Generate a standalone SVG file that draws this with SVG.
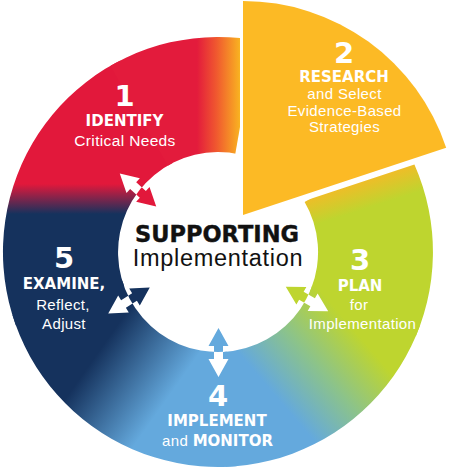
<svg xmlns="http://www.w3.org/2000/svg" width="449" height="469" viewBox="0 0 449 469">
<style>
.d{font-family:"DejaVu Sans",sans-serif;font-weight:bold;fill:#fff;text-anchor:middle;font-size:29px}
.b{font-family:"DejaVu Sans",sans-serif;font-weight:bold;fill:#fff;font-size:15px}
.r{font-family:"Liberation Sans",Arial,sans-serif;fill:#fff;font-size:15px;letter-spacing:0.35px}
.m{text-anchor:middle}
</style>
<defs>
<clipPath id="ringClip"><path d="M414.4 164.6 A215 215 0 1 1 240 38.1 L240 154.5 A100 100 0 1 0 304.1 201.1 Z"/></clipPath>
<clipPath id="innerClip"><circle cx="218" cy="252" r="100"/></clipPath>
<linearGradient id="gTop" gradientUnits="userSpaceOnUse" x1="360" y1="183" x2="368" y2="208"><stop offset="0" stop-color="#EDBE28"/><stop offset="1" stop-color="#BED52F"/></linearGradient>
<linearGradient id="gGB" gradientUnits="userSpaceOnUse" x1="355" y1="331" x2="277" y2="398"><stop offset="0" stop-color="#BED52F"/><stop offset="0.5" stop-color="#8CC38A"/><stop offset="1" stop-color="#64A9DD"/></linearGradient>
<linearGradient id="gBN" gradientUnits="userSpaceOnUse" x1="165" y1="402" x2="97" y2="354"><stop offset="0" stop-color="#64A9DD"/><stop offset="1" stop-color="#15325D"/></linearGradient>
<linearGradient id="gNR" gradientUnits="userSpaceOnUse" x1="0" y1="184" x2="0" y2="214"><stop offset="0" stop-color="#E2183B"/><stop offset="1" stop-color="#15325D"/></linearGradient>
<linearGradient id="gRO" gradientUnits="userSpaceOnUse" x1="197" y1="0" x2="240" y2="0"><stop offset="0" stop-color="#E31B3C"/><stop offset="0.45" stop-color="#F0582F"/><stop offset="1" stop-color="#F9B321"/></linearGradient>
<path id="arr" d="M24.5 0 L6.5 -10 L6.5 -4.5 L-6.5 -4.5 L-6.5 -10 L-24.5 0 L-6.5 10 L-6.5 4.5 L6.5 4.5 L6.5 10 Z"/>
</defs>
<rect width="449" height="469" fill="#fff"/>
<g id="ring" clip-path="url(#ringClip)">
<path d="M218 252 L417.2 137 A230 230 0 0 1 429.7 341.9 Z" fill="url(#gTop)"/>
<path d="M218 252 L434.1 330.7 A230 230 0 0 1 226 481.9 Z" fill="url(#gGB)"/>
<path d="M218 252 L238 481.1 A230 230 0 0 1 -1.9 319.2 Z" fill="url(#gBN)"/>
<path d="M218 252 L1.9 330.7 A230 230 0 0 1 113.6 47.1 Z" fill="url(#gNR)"/>
<path d="M218 252 L103 52.8 A230 230 0 0 1 257.9 25.5 Z" fill="url(#gRO)"/>
</g>
<g id="step2">
<path d="M243 215 L243 1 A214 214 0 0 1 446.2 147.8 Z" fill="#FCBA25"/>
<text class="d" x="344" y="63">2</text>
<text class="b m" x="344" y="82">RESEARCH</text>
<text class="r m" x="344.5" y="99">and Select</text>
<text class="r m" x="344.5" y="115.5">Evidence-Based</text>
<text class="r m" x="344.5" y="132">Strategies</text>
</g>
<g id="step1">
<text class="d" x="124.5" y="106">1</text>
<text class="b m" x="124.5" y="126">IDENTIFY</text>
<text class="r m" x="125" y="146" style="font-size:15.5px">Critical Needs</text>
</g>
<g id="step3">
<text class="d" x="360" y="270">3</text>
<text class="b m" x="360" y="290.5">PLAN</text>
<text class="r m" x="359" y="310">for</text>
<text class="r m" x="362.5" y="328.5">Implementation</text>
</g>
<g id="step4">
<text class="d" x="218" y="406">4</text>
<text class="b m" x="217" y="426">IMPLEMENT</text>
<text class="m" x="217.5" y="446"><tspan class="r">and </tspan><tspan class="b">MONITOR</tspan></text>
</g>
<g id="step5">
<text class="d" x="64" y="268">5</text>
<text class="b m" x="64" y="289">EXAMINE,</text>
<text class="r m" x="63" y="310">Reflect,</text>
<text class="r m" x="64" y="329">Adjust</text>
</g>
<g id="center">
<text x="217" y="242" style="font-family:'DejaVu Sans',sans-serif;font-weight:bold;font-size:22.5px;fill:#111;stroke:#111;stroke-width:0.4;text-anchor:middle">SUPPORTING</text>
<text x="218" y="266" style="font-family:'Liberation Sans',Arial,sans-serif;font-size:23.5px;letter-spacing:0.7px;fill:#111;text-anchor:middle">Implementation</text>
</g>
<g id="connectors">
<g fill="#fff">
<use href="#arr" transform="translate(138 190) rotate(222)"/>
<use href="#arr" transform="translate(307 299) rotate(30)"/>
<use href="#arr" transform="translate(218.5 352.5) rotate(90)"/>
<use href="#arr" transform="translate(129 300.5) rotate(148)"/>
</g>
<g clip-path="url(#innerClip)">
<use href="#arr" fill="#E2183B" transform="translate(138 190) rotate(222)"/>
<use href="#arr" fill="#BED52F" transform="translate(307 299) rotate(30)"/>
<use href="#arr" fill="#64A9DD" transform="translate(218.5 352.5) rotate(90)"/>
<use href="#arr" fill="#15325D" transform="translate(129 300.5) rotate(148)"/>
</g>
</g>
</svg>
